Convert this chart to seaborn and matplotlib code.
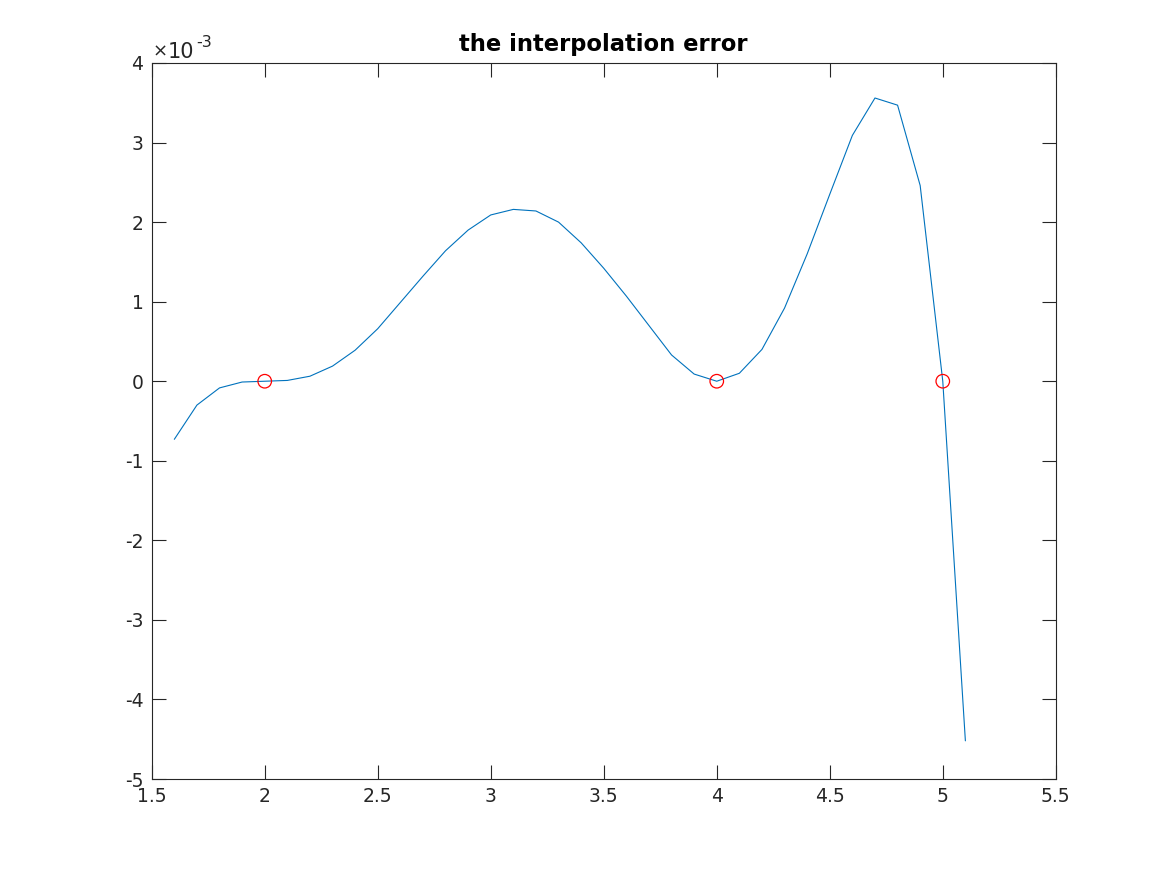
import numpy as np
import pandas as pd
import matplotlib
matplotlib.use("Agg")
import matplotlib.pyplot as plt
import seaborn as sns
from matplotlib.ticker import FuncFormatter

# datos
x_vals = [1.6, 1.7, 1.8, 1.9, 2.0, 2.1, 2.2, 2.3, 2.4, 2.5, 2.6, 2.7, 2.8, 2.9, 3.0,
          3.1, 3.2, 3.3, 3.4, 3.5, 3.6, 3.7, 3.8, 3.9, 4.0, 4.1, 4.2, 4.3, 4.4, 4.5,
          4.6, 4.7, 4.8, 4.9, 5.0, 5.1]
err_vals = [-0.73e-3, -0.30e-3, -0.084e-3, -0.01e-3, 0.0, 0.01e-3, 0.063e-3, 0.19e-3,
            0.39e-3, 0.66e-3, 0.99e-3, 1.32e-3, 1.64e-3, 1.90e-3, 2.09e-3, 2.16e-3,
            2.14e-3, 2.00e-3, 1.74e-3, 1.42e-3, 1.07e-3, 0.70e-3, 0.33e-3, 0.09e-3,
            0.0, 0.10e-3, 0.40e-3, 0.92e-3, 1.60e-3, 2.35e-3, 3.09e-3, 3.56e-3,
            3.47e-3, 2.46e-3, 0.0, -4.52e-3]
nodos_x = [2.0, 4.0, 5.0]
nodos_y = [0.0, 0.0, 0.0]

df = pd.DataFrame({"x": x_vals, "err": err_vals})
nodos = pd.DataFrame({"x": nodos_x, "y": nodos_y})

sns.set_style("white")
plt.rcParams["axes.unicode_minus"] = False
plt.rcParams["font.family"] = ["DejaVu Sans"]

W, H = 1167, 875
fig = plt.figure(figsize=(W / 100, H / 100), dpi=100)
ax = fig.add_axes([0.130, 0.1097, 0.7747, 0.8183])

sns.lineplot(data=df, x="x", y="err", color="#0072BD", linewidth=0.8, ax=ax)
sns.scatterplot(data=nodos, x="x", y="y", ax=ax, marker="o", s=95,
                facecolor="none", edgecolor="red", linewidth=0.9, zorder=3)

ax.set_xlim(1.5, 5.5)
ax.set_ylim(-5e-3, 4e-3)
ax.set_xticks(np.arange(1.5, 5.51, 0.5))
ax.set_yticks(np.arange(-5, 4.1, 1) * 1e-3)
ax.xaxis.set_major_formatter(FuncFormatter(lambda v, p: f"{v:g}"))
ax.yaxis.set_major_formatter(FuncFormatter(lambda v, p: f"{round(v * 1e3):d}"))
ax.set_xlabel("")
ax.set_ylabel("")

for s in ax.spines.values():
    s.set_visible(True)
    s.set_color("#262626")
    s.set_linewidth(0.8)
ax.tick_params(direction="in", length=10, width=0.8, colors="#262626",
               labelsize=13.5, top=True, right=True, bottom=True, left=True,
               labelcolor="#262626", pad=6)

# multiplicador del eje y, estilo matlab (posiciones en pixeles)
ax.text(153 / W, 1 - 57 / H, "\u00d7", transform=fig.transFigure,
        fontsize=13, color="#262626", ha="left", va="baseline")
ax.text(168 / W, 1 - 58 / H, "10", transform=fig.transFigure,
        fontsize=15, color="#262626", ha="left", va="baseline")
ax.text(196 / W, 1 - 47 / H, "-3", transform=fig.transFigure,
        fontsize=11.5, color="#262626", ha="left", va="baseline")
ax.set_title("the interpolation error", fontsize=16.3, fontweight="bold",
             color="black", pad=9)

fig.savefig("out.png", dpi=100, facecolor="white")
